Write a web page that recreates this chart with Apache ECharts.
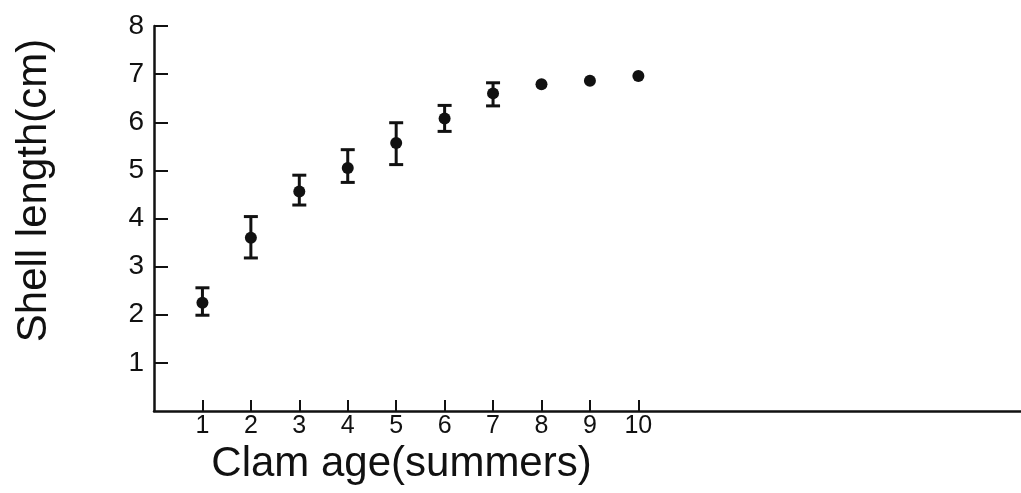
<!DOCTYPE html>
<html>
<head>
<meta charset="utf-8">
<script src="https://cdn.jsdelivr.net/npm/echarts@6/dist/echarts.min.js"></script>
<style>
html,body{margin:0;padding:0;background:#fff;}
#chart{width:1021px;height:493px;}
</style>
</head>
<body>
<div id="chart"></div>
<script>
const ages = [1, 2, 3, 4, 5, 6, 7, 8, 9, 10];
const meanLength = [2.25, 3.60, 4.56, 5.05, 5.57, 6.08, 6.60, 6.79, 6.86, 6.96];
const upperLength = [2.56, 4.04, 4.90, 5.43, 5.99, 6.35, 6.82, null, null, null];
const lowerLength = [1.99, 3.18, 4.28, 4.75, 5.12, 5.81, 6.34, null, null, null];
const xTickValues = [1, 2, 3, 4, 5, 6, 7, 8, 9, 10];
const yTickValues = [1, 2, 3, 4, 5, 6, 7, 8];

const points = ages.map((a, i) => [a, meanLength[i]]);
const bars = ages.map((a, i) => [a, lowerLength[i], upperLength[i]]).filter(d => d[1] != null);

const chart = echarts.init(document.getElementById('chart'));
const ink = '#111';
const fontFam = '"Liberation Sans", Arial, Helvetica, sans-serif';

chart.setOption({
  backgroundColor: '#fff',
  animation: false,
  grid: { left: 154, right: 0, top: 26, bottom: 82, containLabel: false, outerBoundsMode: 'none' },
  xAxis: {
    type: 'value', min: 0, max: 17.9,
    splitLine: { show: false },
    axisLine: { show: true, lineStyle: { color: ink, width: 2.5 } },
    axisTick: { show: true, inside: true, length: 11, customValues: xTickValues, lineStyle: { color: ink, width: 2 } },
    axisLabel: { show: true, customValues: xTickValues, color: ink, fontSize: 25, fontFamily: fontFam, margin: 3 },
    name: 'Clam age(summers)', nameLocation: 'middle', nameGap: 13,
    nameTextStyle: { color: ink, fontSize: 42, fontFamily: fontFam, padding: [0, 372, 0, 0] }
  },
  yAxis: {
    type: 'value', min: 0, max: 8, interval: 1,
    splitLine: { show: false },
    axisLine: { show: true, lineStyle: { color: ink, width: 2.5 } },
    axisTick: { show: true, inside: true, length: 14, customValues: yTickValues, lineStyle: { color: ink, width: 2 } },
    axisLabel: { show: true, customValues: yTickValues, color: ink, fontSize: 28, fontFamily: fontFam, margin: 10 },
    name: 'Shell length(cm)', nameLocation: 'middle', nameGap: 99, nameRotate: 90,
    nameTextStyle: { color: ink, fontSize: 42, fontFamily: fontFam, padding: [0, 0, 0, 56] }
  },
  series: [
    {
      type: 'custom',
      data: bars,
      z: 2,
      renderItem: function (params, api) {
        const x = api.value(0);
        const lo = api.coord([x, api.value(1)]);
        const hi = api.coord([x, api.value(2)]);
        const hw = 7;
        const style = { stroke: ink, lineWidth: 3 };
        return {
          type: 'group',
          children: [
            { type: 'line', shape: { x1: lo[0], y1: lo[1], x2: hi[0], y2: hi[1] }, style: style },
            { type: 'line', shape: { x1: lo[0] - hw, y1: lo[1], x2: lo[0] + hw, y2: lo[1] }, style: style },
            { type: 'line', shape: { x1: hi[0] - hw, y1: hi[1], x2: hi[0] + hw, y2: hi[1] }, style: style }
          ]
        };
      }
    },
    {
      type: 'scatter',
      data: points,
      symbol: 'circle',
      symbolSize: 12,
      z: 3,
      itemStyle: { color: ink, opacity: 1 }
    }
  ]
});
</script>
</body>
</html>
